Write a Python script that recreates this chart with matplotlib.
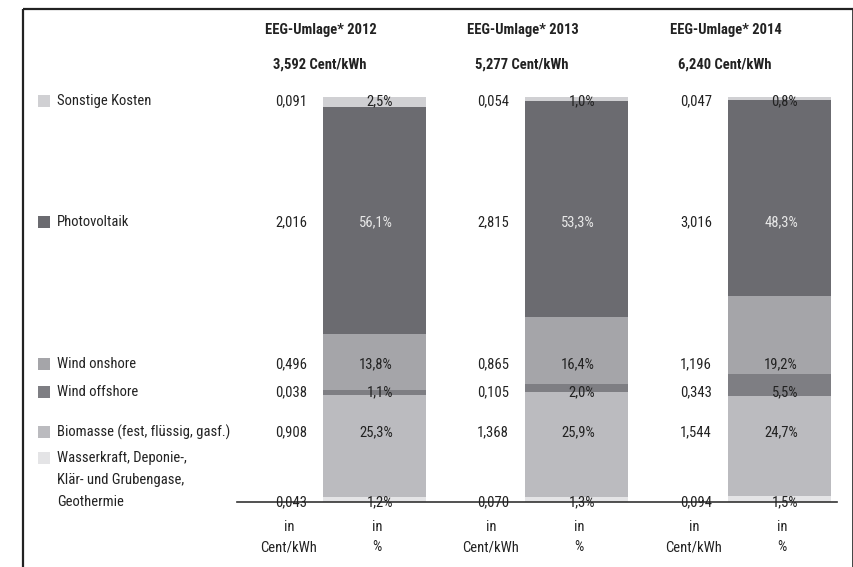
import matplotlib
matplotlib.use("Agg")
from matplotlib import pyplot as plt

plt.rcParams["font.family"] = ["Roboto Condensed", "Archivo Narrow", "DejaVu Sans"]

# --- data -----------------------------------------------------------------
years = ["2012", "2013", "2014"]
totals = ["3,592", "5,277", "6,240"]
# bottom -> top
categories = ["Wasserkraft", "Biomasse", "Wind offshore", "Wind onshore", "Photovoltaik", "Sonstige Kosten"]
legend_labels = ["Wasserkraft, Deponie-,\nKlär- und Grubengase,\nGeothermie",
                 "Biomasse (fest, flüssig, gasf.)", "Wind offshore", "Wind onshore",
                 "Photovoltaik", "Sonstige Kosten"]
pct = {
    "2012": [1.2, 25.3, 1.1, 13.8, 56.1, 2.5],
    "2013": [1.3, 25.9, 2.0, 16.4, 53.3, 1.0],
    "2014": [1.5, 24.7, 5.5, 19.2, 48.3, 0.8],
}
cent = {
    "2012": ["0,043", "0,908", "0,038", "0,496", "2,016", "0,091"],
    "2013": ["0,070", "1,368", "0,105", "0,865", "2,815", "0,054"],
    "2014": ["0,094", "1,544", "0,343", "1,196", "3,016", "0,047"],
}
colors = ["#e4e4e6", "#bbbbbf", "#7e7e83", "#a5a5a9", "#6b6b70", "#d0d0d3"]

# --- layout (pixels) --------------------------------------------------------
W, H = 854, 567
bar_x = [375, 577, 780]
bar_w = 103
bar_top, bar_bot = 97, 502
row_y = [502, 432, 392, 364, 222, 101]
TXT = "#222222"
FS = 10.5

fig = plt.figure(figsize=(W / 100, H / 100), dpi=100)

ax = fig.add_axes([0, (H - bar_bot) / H, 1, (bar_bot - bar_top) / H])
ax.set_xlim(0, W)
ax.set_ylim(0, 100)
ax.axis("off")
for x, yr in zip(bar_x, years):
    bottom = 0
    for v, c in zip(pct[yr], colors):
        ax.bar(x, v, bottom=bottom, width=bar_w, color=c, edgecolor="none")
        bottom += v

ov = fig.add_axes([0, 0, 1, 1], zorder=5)
ov.set_xlim(0, W)
ov.set_ylim(H, 0)
ov.axis("off")

# frame
ov.plot([23.5, 23.5], [H + 5, 9], color="#222222", lw=1.6, solid_capstyle="butt")
ov.plot([23.5, 853], [9, 9], color="#222222", lw=1.6, solid_capstyle="butt")
ov.plot([853, 853], [9, H + 5], color="#222222", lw=1.2, solid_capstyle="butt")
# baseline
ov.plot([237, 837], [bar_bot, bar_bot], color="#333333", lw=1.2)

# legend column
for i, (lab, c) in enumerate(zip(legend_labels, colors)):
    y = row_y[i]
    if i == 0:
        ov.add_patch(plt.Rectangle((38, 452), 12, 12, color=c, lw=0))
        for k, line in enumerate(lab.split("\n")):
            ov.text(57, 458 + k * 22, line, fontsize=FS, color=TXT, va="center", ha="left")
    else:
        ov.add_patch(plt.Rectangle((38, y - 6), 12, 12, color=c, lw=0))
        ov.text(57, y, lab, fontsize=FS, color=TXT, va="center", ha="left")

# per-year columns
for x, yr, tot in zip(bar_x, years, totals):
    ov.text(x - 110, 30, f"EEG-Umlage* {yr}", fontsize=FS, fontweight="bold", color=TXT,
            va="center", ha="left")
    ov.text(x - 102, 65, f"{tot} Cent/kWh", fontsize=FS, fontweight="bold", color=TXT,
            va="center", ha="left")
    for i, y in enumerate(row_y):
        ov.text(x - 68, y, cent[yr][i], fontsize=FS, color=TXT, va="center", ha="right")
        col = "#e8e8e8" if categories[i] == "Photovoltaik" else TXT
        ov.text(x + 18, y, f"{pct[yr][i]:.1f}%".replace(".", ","), fontsize=FS, color=col,
                va="center", ha="right")
    ov.text(x - 86, 527, "in", fontsize=FS, color=TXT, va="center", ha="center")
    ov.text(x - 86, 547, "Cent/kWh", fontsize=FS, color=TXT, va="center", ha="center")
    ov.text(x + 2, 527, "in", fontsize=FS, color=TXT, va="center", ha="center")
    ov.text(x + 2, 547, "%", fontsize=FS, color=TXT, va="center", ha="center")

fig.savefig("out.png", dpi=100)
